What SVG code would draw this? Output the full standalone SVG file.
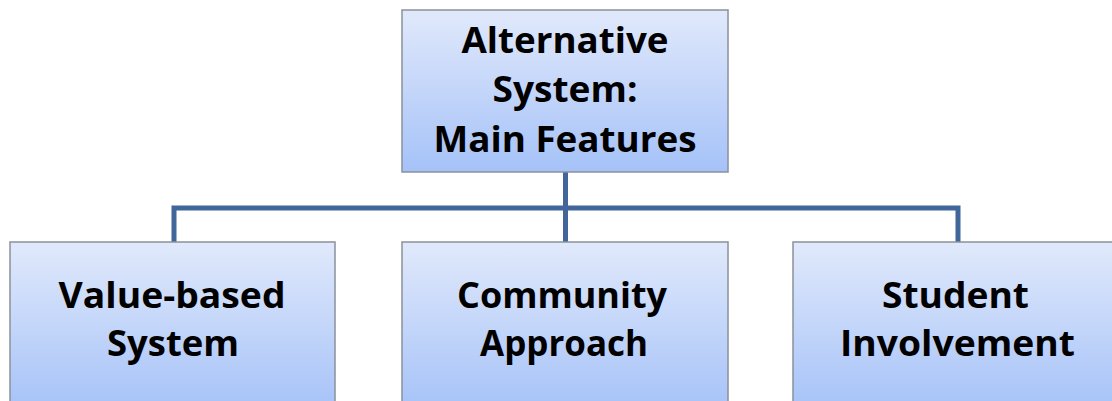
<svg xmlns="http://www.w3.org/2000/svg" width="1112" height="401" viewBox="0 0 1112 401">
  <defs>
    <linearGradient id="boxFill" x1="0" y1="0" x2="0" y2="1">
      <stop offset="0" stop-color="#e1e9fb"/>
      <stop offset="1" stop-color="#a5c2f8"/>
    </linearGradient>
    <style>
      .box { fill: url(#boxFill); stroke: #8b919c; stroke-width: 1.5; }
      .label { font-family: "Open Sans", "Liberation Sans", sans-serif; font-weight: 700; font-size: 35px; fill: #000; text-anchor: middle; }
      .link { fill: none; stroke: #41679a; stroke-width: 5; stroke-linejoin: miter; }
    </style>
  </defs>
  <rect width="1112" height="401" fill="#ffffff"/>

  <!-- connectors -->
  <g id="connectors">
    <path class="link" d="M565.5 172 V242"/>
    <path class="link" d="M174 242 V208 H958 V242"/>
  </g>

  <!-- root node -->
  <g id="node-main">
    <rect class="box" x="402" y="10" width="326" height="162"/>
    <text class="label" x="565" y="53" textLength="207" lengthAdjust="spacingAndGlyphs">Alternative</text>
    <text class="label" x="565" y="102" textLength="145" lengthAdjust="spacingAndGlyphs">System:</text>
    <text class="label" x="565" y="152" textLength="263" lengthAdjust="spacingAndGlyphs">Main Features</text>
  </g>

  <!-- child nodes -->
  <g id="node-value">
    <rect class="box" x="10" y="242" width="325" height="170"/>
    <text class="label" x="172" y="308" textLength="227" lengthAdjust="spacingAndGlyphs">Value-based</text>
    <text class="label" x="173" y="356" textLength="132" lengthAdjust="spacingAndGlyphs">System</text>
  </g>

  <g id="node-community">
    <rect class="box" x="402" y="242" width="326" height="170"/>
    <text class="label" x="562" y="308" textLength="210" lengthAdjust="spacingAndGlyphs">Community</text>
    <text class="label" x="564" y="356" textLength="168" lengthAdjust="spacingAndGlyphs">Approach</text>
  </g>

  <g id="node-student">
    <rect class="box" x="793" y="242" width="328" height="170"/>
    <text class="label" x="955.5" y="308" textLength="147" lengthAdjust="spacingAndGlyphs">Student</text>
    <text class="label" x="957.5" y="356" textLength="235" lengthAdjust="spacingAndGlyphs">Involvement</text>
  </g>
</svg>
